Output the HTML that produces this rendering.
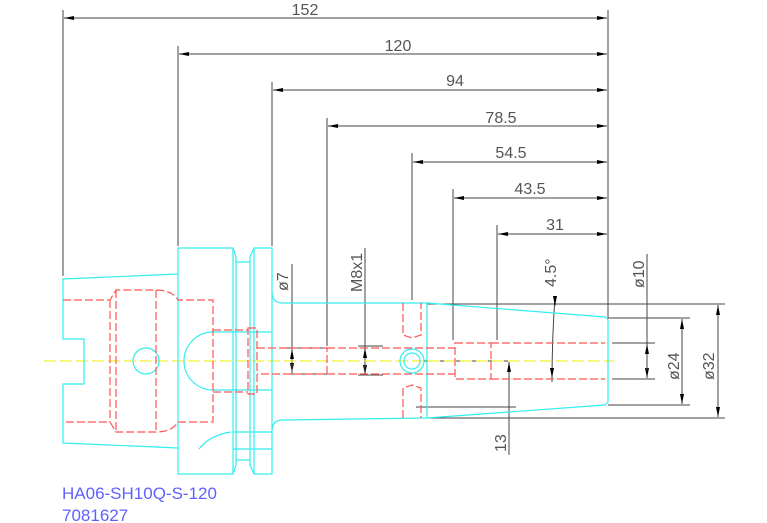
<!DOCTYPE html>
<html><head><meta charset="utf-8"><style>
html,body{margin:0;padding:0;background:#fff;width:767px;height:523px;overflow:hidden}
svg{display:block}
text{font-family:"Liberation Sans",sans-serif;fill:#555}
</style></head><body>
<svg width="767" height="523" viewBox="0 0 767 523" xmlns="http://www.w3.org/2000/svg">
<defs>
<marker id="a" viewBox="0 0 10 4" refX="10" refY="2" markerWidth="10" markerHeight="4" orient="auto-start-reverse" markerUnits="userSpaceOnUse"><path d="M0,0 L10,2 L0,4z" fill="#000"/></marker>
</defs>
<rect width="767" height="523" fill="#fff"/>
<g stroke="#444" stroke-width="1" fill="none">
<line x1="63" y1="10" x2="63" y2="276"/>
<line x1="178" y1="46" x2="178" y2="246"/>
<line x1="272" y1="82" x2="272" y2="246"/>
<line x1="327" y1="118" x2="327" y2="346"/>
<line x1="412" y1="153" x2="412" y2="300"/>
<line x1="453" y1="189" x2="453" y2="340"/>
<line x1="497" y1="225" x2="497" y2="340"/>
<polyline points="608,10 608,318 690,318"/>
<g marker-start="url(#a)" marker-end="url(#a)">
<line x1="64" y1="18" x2="607" y2="18"/>
<line x1="179" y1="54" x2="607" y2="54"/>
<line x1="273" y1="90" x2="607" y2="90"/>
<line x1="328" y1="126" x2="607" y2="126"/>
<line x1="413" y1="162" x2="607" y2="162"/>
<line x1="454" y1="198" x2="607" y2="198"/>
<line x1="498" y1="234" x2="607" y2="234"/>
</g>
<line x1="427" y1="304" x2="725" y2="304"/>
<line x1="427" y1="418" x2="725" y2="418"/>
<line x1="608" y1="405" x2="690" y2="405"/>
<line x1="612" y1="343" x2="655" y2="343"/>
<line x1="612" y1="379" x2="655" y2="379"/>
<line x1="718" y1="305" x2="718" y2="417" marker-start="url(#a)" marker-end="url(#a)"/>
<line x1="682" y1="319" x2="682" y2="404" marker-start="url(#a)" marker-end="url(#a)"/>
<line x1="647" y1="254" x2="647" y2="378" marker-end="url(#a)"/>
<line x1="647" y1="370" x2="647" y2="344" marker-end="url(#a)"/>
<line x1="292" y1="264" x2="292" y2="373" marker-end="url(#a)"/>
<line x1="292" y1="372" x2="292" y2="349" marker-end="url(#a)"/>
<line x1="283" y1="348" x2="327" y2="348"/>
<line x1="283" y1="374" x2="327" y2="374"/>
<line x1="365" y1="248" x2="365" y2="375" marker-end="url(#a)"/>
<line x1="365" y1="372" x2="365" y2="348" marker-end="url(#a)"/>
<line x1="358" y1="346" x2="383" y2="346"/>
<line x1="358" y1="375" x2="383" y2="375"/>
<line x1="416" y1="361" x2="516" y2="361"/>
<line x1="416" y1="407" x2="516" y2="407"/>
<line x1="509" y1="455" x2="509" y2="362" marker-end="url(#a)"/>
<path d="M555,296 Q552,340 552,382"/>
<line x1="555" y1="300" x2="555" y2="306" marker-end="url(#a)"/>
<line x1="552" y1="372" x2="552" y2="378" marker-end="url(#a)"/>
</g>
<g font-size="16">
<text x="305" y="15" text-anchor="middle">152</text>
<text x="398" y="51" text-anchor="middle">120</text>
<text x="455" y="86" text-anchor="middle">94</text>
<text x="501" y="123" text-anchor="middle">78.5</text>
<text x="511" y="158" text-anchor="middle">54.5</text>
<text x="530" y="194" text-anchor="middle">43.5</text>
<text x="555" y="230" text-anchor="middle">31</text>
<text transform="translate(288,291) rotate(-90)">ø7</text>
<text transform="translate(362,292) rotate(-90)">M8x1</text>
<text transform="translate(556,287) rotate(-90)">4.5°</text>
<text transform="translate(644,288) rotate(-90)">ø10</text>
<text transform="translate(679,380) rotate(-90)">ø24</text>
<text transform="translate(714,380) rotate(-90)">ø32</text>
<text transform="translate(506,452) rotate(-90)">13</text>
</g>
<line x1="44" y1="361" x2="614" y2="361" stroke="#ee0" stroke-width="1" stroke-dasharray="12,4"/>
<g stroke="#3ee" stroke-width="1.2" fill="none">
<polyline points="178,274 63,279 63,339 84,339 84,384 63,384 63,443 178,448"/>
<rect x="178" y="248" width="55" height="226"/>
<polyline points="233,248 236,257 236,465 233,474"/>
<line x1="236" y1="262" x2="250" y2="262"/><line x1="236" y1="460" x2="250" y2="460"/>
<polyline points="254,248 250,257 250,465 254,474"/>
<rect x="254" y="248" width="18" height="226"/>
<line x1="213" y1="332" x2="272" y2="332"/><line x1="213" y1="390" x2="272" y2="390"/>
<path d="M213,332 A29,29 0 0 0 213,390"/>
<line x1="233" y1="432" x2="272" y2="432"/><line x1="233" y1="449" x2="272" y2="449"/>
<path d="M199,449 Q210,435 231,432"/>
<path d="M272,292 Q272,303 283,303 L427,303 L605,317 L608,320 L608,402 L605,405 L427,418 L283,420 Q272,420 272,431"/>
<line x1="427" y1="303" x2="427" y2="418"/>
<circle cx="146" cy="361" r="13"/>
<circle cx="412" cy="361" r="12"/><circle cx="412" cy="361" r="8"/>
</g>
<g stroke="#f55" stroke-width="1.2" fill="none" stroke-dasharray="8,3">
<path d="M63,300 L110,300 L116,290 L156,290 Q172,290 178,300 L213,300 L213,422 L178,422 Q172,432 156,432 L116,432 L110,422 L63,422"/>
<line x1="110" y1="300" x2="110" y2="422"/>
<line x1="116" y1="290" x2="116" y2="432"/><line x1="156" y1="290" x2="156" y2="432"/>
<line x1="213" y1="330" x2="248" y2="330"/><line x1="213" y1="392" x2="248" y2="392"/>
<rect x="248" y="328" width="9" height="66"/>
<polyline points="257,348 327,348 327,374 257,374"/>
<line x1="327" y1="348" x2="455" y2="348"/><line x1="327" y1="374" x2="455" y2="374"/>
<rect x="455" y="343" width="36" height="36"/>
<line x1="491" y1="343" x2="605" y2="343"/><line x1="491" y1="379" x2="605" y2="379"/>
<polyline points="403,303 403,335 412,338 421,335 421,303"/>
<polyline points="403,418 403,388 412,385 421,388 421,418"/>
</g>
<text x="62" y="499" font-size="17" style="fill:#6060ff">HA06-SH10Q-S-120</text>
<text x="62" y="521" font-size="17" style="fill:#6060ff">7081627</text>
</svg>
</body></html>
